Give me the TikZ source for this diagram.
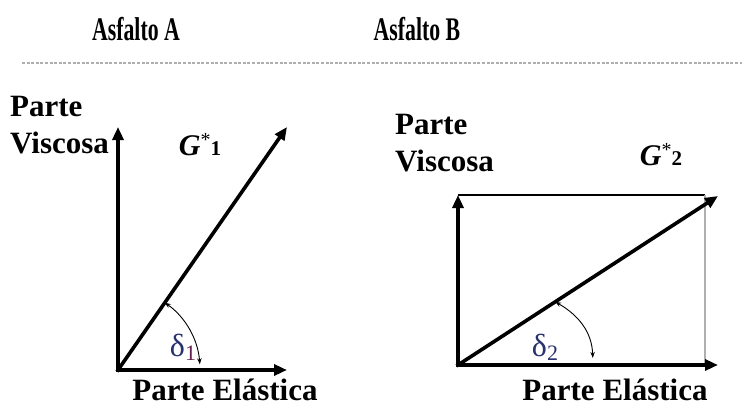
\documentclass[tikz,border=0pt]{standalone}
\usepackage{fontspec}
\setmainfont{Liberation Serif}
\usetikzlibrary{arrows.meta, calc}
\definecolor{deltablue}{RGB}{40,50,110}
\definecolor{deltared}{RGB}{100,30,80}
\definecolor{linhacinza}{RGB}{175,175,175}
\newcommand{\Gestrela}[1]{{\fontsize{30}{30}\selectfont\bfseries\itshape G}\raisebox{9pt}{\fontsize{20}{20}\selectfont *}{\fontsize{21}{21}\selectfont\bfseries #1}}
\newcommand{\deltaidx}[2]{{\color{deltablue}\fontsize{32}{32}\selectfont δ}\raisebox{-4pt}{\color{#1}\fontsize{22}{22}\selectfont #2}}
\tikzset{
    eixo/.style={line width=3.6pt, line cap=rect, -{Triangle[length=13pt,width=11pt]}},
    moldura/.style={line width=1.3pt},
    angulo/.style={line width=0.9pt, {Stealth[length=6pt,width=4.5pt]}-{Stealth[length=6pt,width=4.5pt]}},
    rotulo/.style={font=\fontsize{31}{37}\selectfont\bfseries, inner sep=0pt, align=left},
    titulo/.style={font=\fontsize{33}{33}\selectfont\bfseries, inner sep=0pt}
}

\begin{document}
\begin{tikzpicture}[x=1pt, y=1pt]
    \useasboundingbox (0,0) rectangle (742,408);
    \node[titulo] (tituloA) at (136,379) {\scalebox{0.66}[1]{Asfalto A}};
    \node[titulo] (tituloB) at (417,379) {\scalebox{0.66}[1]{Asfalto B}};
    \draw[linhacinza, line width=1.5pt, dash pattern=on 3pt off 1.6pt] (22,345) -- (742,345);

    \coordinate (O1) at (118,38);
    \coordinate (V1) at (118,281);
    \coordinate (E1) at (287,38);
    \coordinate (G1) at (287,281);
    \draw[eixo] (O1) -- (V1);
    \draw[eixo] (O1) -- (E1);
    \draw[eixo] (O1) -- (G1);
    \draw[angulo] ($(O1)+(55.2:82)$) arc[start angle=55.2, end angle=4, radius=82];
    \node[rotulo, anchor=west] (viscA) at (10,283) {Parte\\Viscosa};
    \node[rotulo, anchor=base] (elastA) at (225,8) {Parte Elástica};
    \node[inner sep=0pt] (GA) at (200,263) {\Gestrela{1}};
    \node[inner sep=0pt] (deltaA) at (183,61) {\deltaidx{deltared}{1}};

    \coordinate (O2) at (458,43);
    \coordinate (V2) at (458,213);
    \coordinate (E2) at (718,43);
    \coordinate (G2) at (718,212);
    \coordinate (C2) at (705,213);
    \coordinate (B2) at (705,43);
    \coordinate (a2) at ($(O2)+(33:116)$);
    \coordinate (b2) at ($(O2)+(3:135)$);
    \draw[moldura] (V2) -- (C2);
    \draw[moldura, linhacinza] (C2) -- (B2);
    \draw[eixo] (O2) -- (V2);
    \draw[eixo] (O2) -- (E2);
    \draw[eixo] (O2) -- (G2);
    \draw[angulo] (a2) to[out=-30, in=92] (b2);
    \node[rotulo, anchor=west] (viscB) at (395,265) {Parte\\Viscosa};
    \node[rotulo, anchor=base] (elastB) at (615,8) {Parte Elástica};
    \node[inner sep=0pt] (GB) at (661,253) {\Gestrela{2}};
    \node[inner sep=0pt] (deltaB) at (545,61) {\deltaidx{deltablue}{2}};
\end{tikzpicture}
\end{document}
